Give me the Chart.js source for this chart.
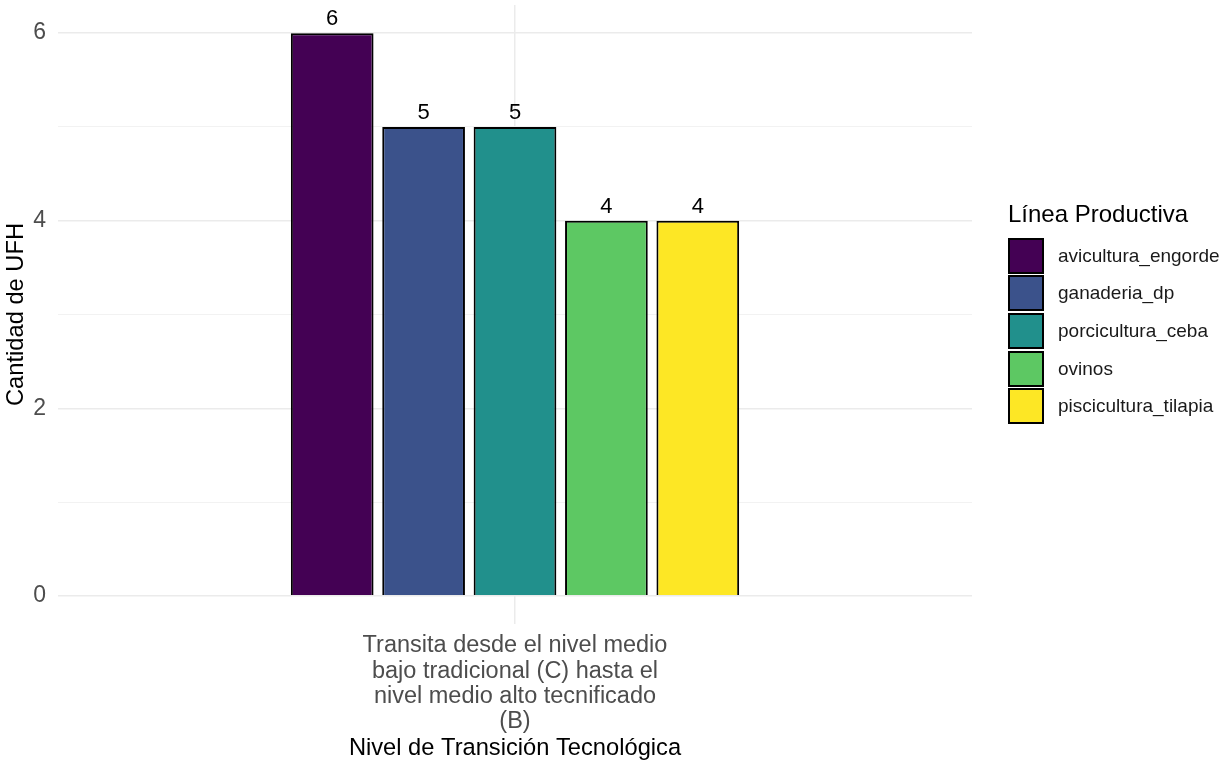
<!DOCTYPE html>
<html>
<head>
<meta charset="utf-8">
<script src="https://cdn.jsdelivr.net/npm/chart.js@4"></script>
<style>
  body { margin: 0; background: #fff; font-family: "Liberation Sans", Arial, sans-serif; }
  #wrap { position: relative; width: 1220px; height: 761px; }
  #legend { position: absolute; left: 1008px; top: 200px; }
  #legend .title { font-size: 24px; line-height: 28px; color: #000; margin-bottom: 9px; }
  #legend .row { display: flex; align-items: center; height: 37.6px; }
  #legend .box { width: 32px; height: 32px; border: 2px solid #000; box-sizing: content-box; margin-right: 14px; }
  #legend .lbl { font-size: 19px; color: #1a1a1a; }
</style>
</head>
<body>
<div id="wrap">
  <canvas id="chart" width="1220" height="761"></canvas>
  <div id="legend"></div>
</div>
<script>
// data
const categories = [['Transita desde el nivel medio', 'bajo tradicional (C) hasta el', 'nivel medio alto tecnificado', '(B)']];
const lineas = ['avicultura_engorde', 'ganaderia_dp', 'porcicultura_ceba', 'ovinos', 'piscicultura_tilapia'];
const cantidades = [6, 5, 5, 4, 4];
const colores = ['#440154', '#3B528B', '#21908C', '#5DC863', '#FDE725'];
const yTicks = [0, 1, 2, 3, 4, 5, 6];

const FONT = '"Liberation Sans", Arial, sans-serif';

// value labels above the bars
const barLabels = {
    id: 'barLabels',
    afterDatasetsDraw(chart) {
        const ctx = chart.ctx;
        ctx.save();
        ctx.font = '22px ' + FONT;
        ctx.fillStyle = '#000';
        ctx.textAlign = 'center';
        ctx.textBaseline = 'alphabetic';
        chart.data.datasets.forEach((ds, i) => {
            chart.getDatasetMeta(i).data.forEach((bar, j) => {
                ctx.fillText(ds.data[j], bar.x, bar.y - 8);
            });
        });
        ctx.restore();
    }
};

const datasets = lineas.map((name, i) => ({
    label: name,
    data: [cantidades[i]],
    backgroundColor: colores[i],
    borderColor: '#000',
    borderWidth: 2,
    categoryPercentage: 0.5,
    barPercentage: 0.905
}));

new Chart(document.getElementById('chart'), {
    type: 'bar',
    data: { labels: categories, datasets: datasets },
    options: {
        responsive: false,
        animation: false,
        layout: { padding: { left: 0, right: 248, top: 5, bottom: 0 } },
        plugins: {
            legend: { display: false },
            tooltip: { enabled: false }
        },
        scales: {
            x: {
                afterFit: (scale) => { scale.height = 137; scale.paddingLeft = 0; scale.paddingRight = 0; },
                grid: { offset: false, color: '#ebebeb', lineWidth: 1.5, tickLength: 0 },
                border: { display: false },
                ticks: { color: '#4d4d4d', font: { family: FONT, size: 23.5, lineHeight: 1.08 }, padding: 9 },
                title: { display: true, text: 'Nivel de Transición Tecnológica', color: '#000', font: { family: FONT, size: 23.7, lineHeight: 1.1 }, padding: { top: 0, bottom: 0 } }
            },
            y: {
                min: -0.3,
                max: 6.3,
                afterBuildTicks: (scale) => { scale.ticks = yTicks.map(v => ({ value: v })); },
                afterFit: (scale) => { scale.width = 58; scale.paddingTop = 0; scale.paddingBottom = 0; },
                grid: {
                    drawTicks: false,
                    color: (c) => c.tick && c.tick.value % 2 === 0 ? '#ebebeb' : '#f2f2f2',
                    lineWidth: (c) => c.tick && c.tick.value % 2 === 0 ? 1.5 : 1
                },
                border: { display: false },
                ticks: {
                    color: '#4d4d4d',
                    font: { family: FONT, size: 23 },
                    padding: 12,
                    callback: (v) => v % 2 === 0 ? v : ''
                },
                title: { display: true, text: 'Cantidad de UFH', color: '#000', font: { family: FONT, size: 23.7 }, padding: { top: 2, bottom: 0 } }
            }
        }
    },
    plugins: [barLabels]
});

// legend
const legend = document.getElementById('legend');
legend.innerHTML = '<div class="title">Línea Productiva</div>' + lineas.map((name, i) =>
    `<div class="row"><div class="box" style="background:${colores[i]}"></div><div class="lbl">${name}</div></div>`
).join('');
</script>
</body>
</html>
